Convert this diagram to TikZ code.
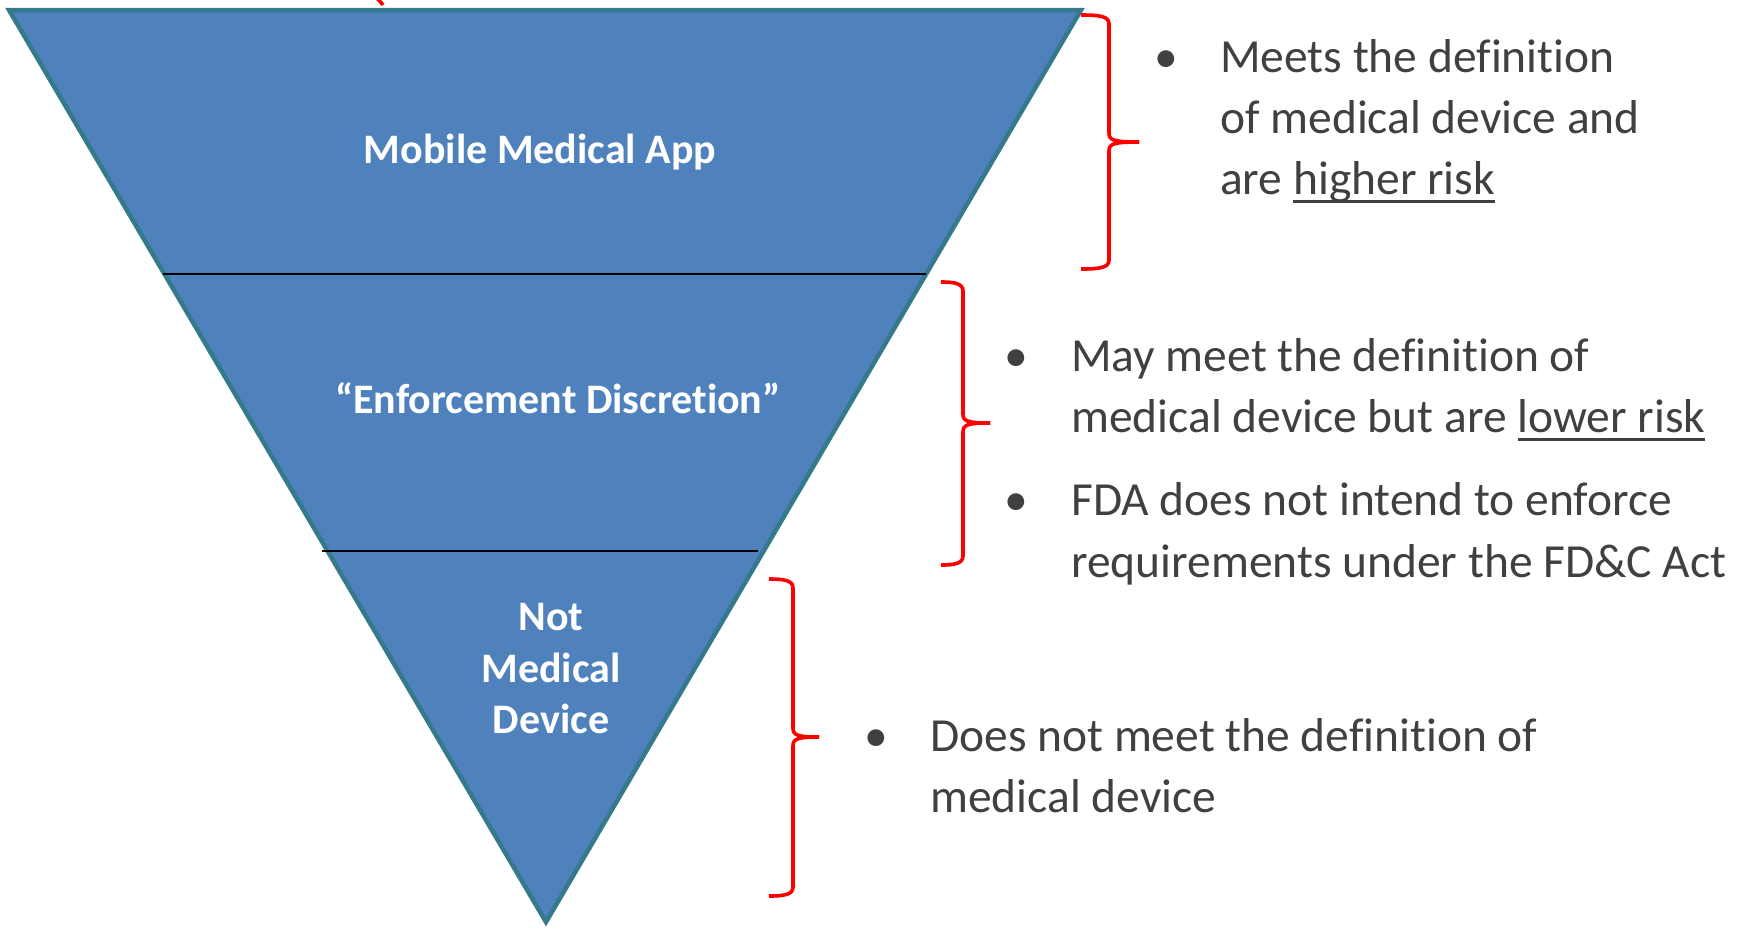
\documentclass[tikz,border=0pt]{standalone}
\usepackage{fontspec}
\setmainfont{Carlito}[Ligatures=NoCommon]
\usetikzlibrary{calc}

\definecolor{funnelfill}{RGB}{79,129,189}
\definecolor{funneledge}{RGB}{53,122,140}
\definecolor{notegray}{RGB}{64,64,64}
\definecolor{bracered}{RGB}{255,0,0}

% underline drawn a fixed distance below the baseline
\newcommand\riskline[1]{\setbox0\hbox{#1}\rlap{\rule[-8.5bp]{\wd0}{3bp}}\box0}

% right curly bracket: left x, spine x, tip x, top y, middle y, bottom y
\newcommand\curlybracket[6]{%
  \draw[bracket] (#1,#4) .. controls ({#2-10},#4) and (#2,{#4+1}) .. (#2,{#4+9})
    -- (#2,{#5-9}) .. controls (#2,{#5-2}) and ({#2+4},#5) .. (#3,#5);
  \draw[bracket] (#3,#5) .. controls ({#2+4},#5) and (#2,{#5+2}) .. (#2,{#5+9})
    -- (#2,{#6-9}) .. controls (#2,{#6-1}) and ({#2-10},#6) .. (#1,#6);}

\begin{document}
\begin{tikzpicture}[x=1bp,y=-1bp,
  tier/.style={text=white,font=\fontsize{42bp}{51.5bp}\selectfont\bfseries,inner sep=0,anchor=base},
  note/.style={text=notegray,font=\fontsize{47.5bp}{61bp}\selectfont,anchor=base west,inner sep=0},
  dot/.style={text=notegray,font=\fontsize{47.5bp}{61bp}\selectfont,anchor=base,inner sep=0},
  bracket/.style={draw=bracered,line width=3.6bp},
  divider/.style={draw=black,line width=2bp},
  funnel/.style={fill=funnelfill,draw=funneledge,line width=4.5bp}]

\useasboundingbox (0,0) rectangle (1752,928);

% funnel
\coordinate (TL) at (9,10);
\coordinate (TR) at (1081,10);
\coordinate (AP) at (546,922);
\path[funnel] (TL) -- (TR) -- (AP) -- cycle;

% tier dividers
\coordinate (d1l) at (163,274);
\coordinate (d1r) at (926,274);
\coordinate (d2l) at (322,551);
\coordinate (d2r) at (758,551);
\draw[divider] (d1l) -- (d1r);
\draw[divider] (d2l) -- (d2r);

% tier labels
\node[tier] (app) at (540,163) {Mobile Medical App};
\node[tier] (discretion) at (558,413) {“Enforcement Discretion”};
\node[tier] (notA) at (551,630) {Not};
\node[tier] (notB) at (551,682) {Medical};
\node[tier] (notC) at (551,733) {Device};

% brackets
\draw[bracket] (375,-3) .. controls (379,0) .. (383,5);
\curlybracket{1081}{1109}{1139}{15}{142}{269}
\curlybracket{941}{963}{990}{282}{423}{565}
\curlybracket{769}{793}{819}{579}{737}{896}

% notes for the top tier
\node[dot] (b1) at (1166,72) {•};
\node[note] (t1a) at (1220,72) {Meets the definition};
\node[note] (t1b) at (1220,133) {of medical device and};
\node[note] (t1c) at (1220,194) {are \riskline{higher risk}};

% notes for the middle tier
\node[dot] (b2) at (1016,371) {•};
\node[note] (t2a) at (1071,371) {May meet the definition of};
\node[note] (t2b) at (1071,432) {medical device but are \riskline{lower risk}};
\node[dot] (b3) at (1016,515) {•};
\node[note] (t3a) at (1071,515) {FDA does not intend to enforce};
\node[note] (t3b) at (1071,577) {requirements under the FD\&C Act};

% notes for the bottom tier
\node[dot] (b4) at (876,751) {•};
\node[note] (t4a) at (930,751) {Does not meet the definition of};
\node[note] (t4b) at (930,812) {medical device};
\end{tikzpicture}
\end{document}
